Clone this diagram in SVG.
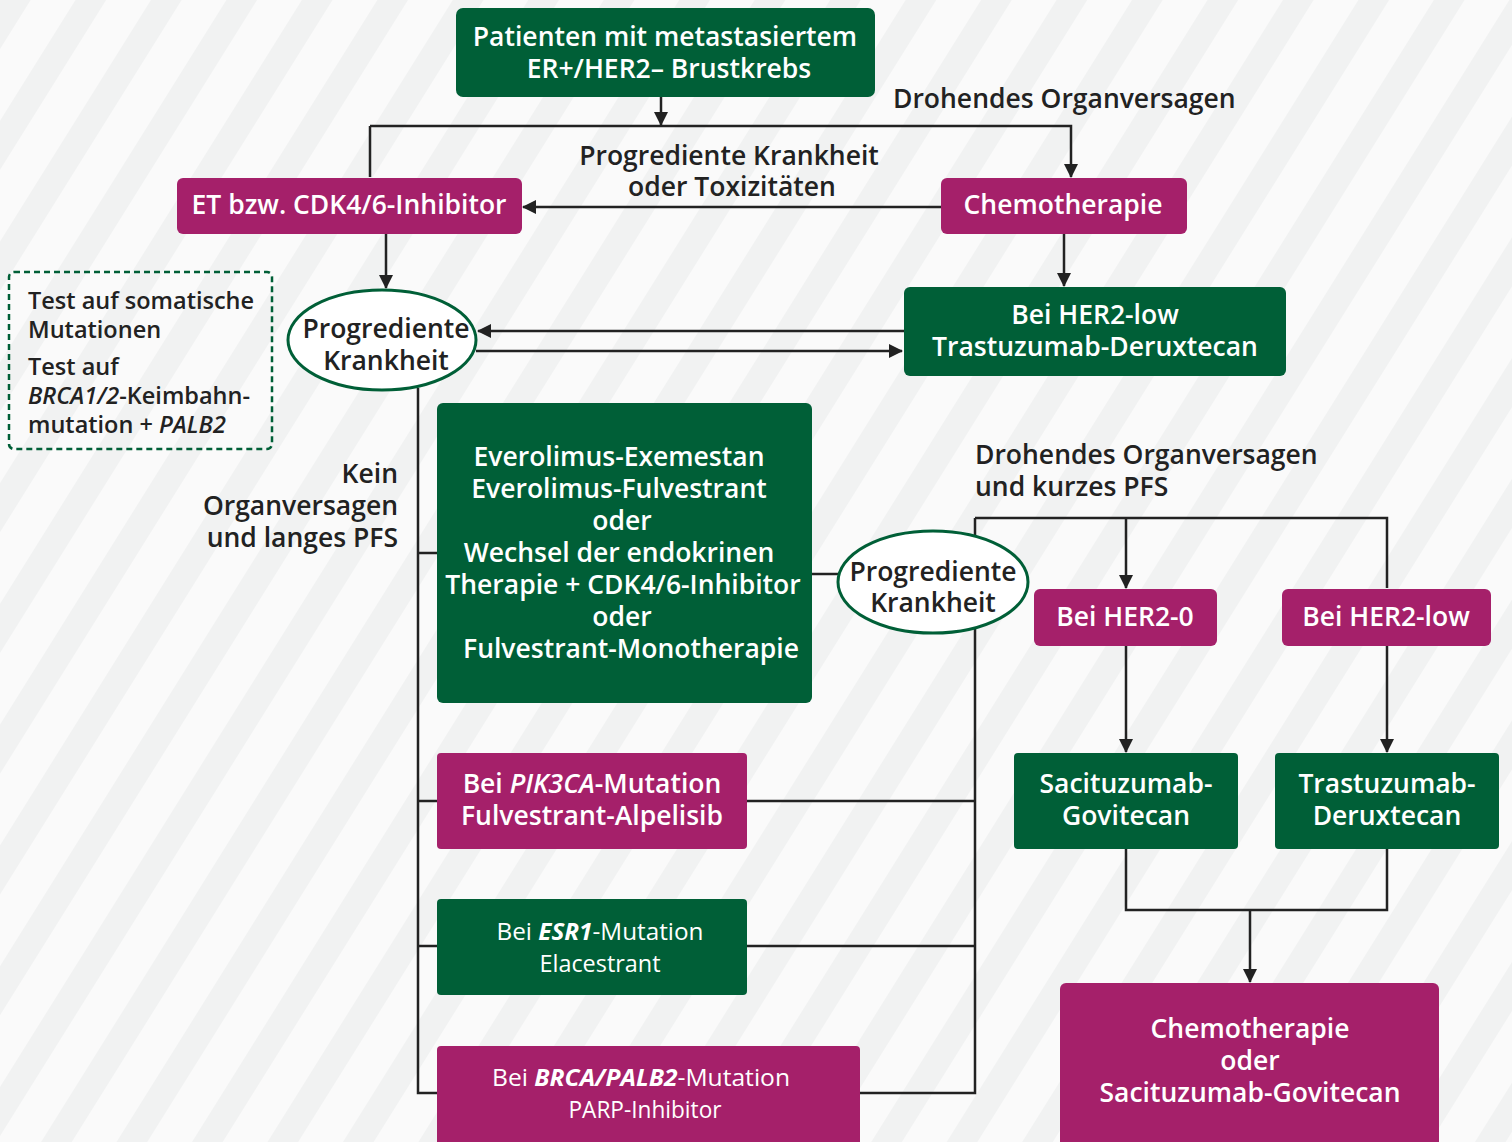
<svg xmlns="http://www.w3.org/2000/svg" width="1512" height="1142" viewBox="0 0 1512 1142">
<defs>
<pattern id="stripes" patternUnits="userSpaceOnUse" width="64" height="64" patternTransform="rotate(32)">
<rect x="0" y="0" width="64" height="64" fill="#fafafa"/>
<rect x="0" y="0" width="26" height="64" fill="#f1f2f2"/>
</pattern>
<marker id="ah" markerUnits="userSpaceOnUse" markerWidth="14" markerHeight="14" refX="13" refY="7" orient="auto">
<path d="M0,0 L14,7 L0,14 Z" fill="#222"/>
</marker>
</defs>
<style>
.g{fill:#005f37}
.m{fill:#a5206a}
.wt{fill:#fff;font-family:"Open Sans","Noto Sans",sans-serif;font-size:26.5px;font-weight:600;text-anchor:middle}
.wc{fill:#fff;font-family:"Open Sans","Noto Sans",sans-serif;font-size:24px;text-anchor:middle}
.dt{fill:#222;font-family:"Open Sans","Noto Sans",sans-serif;font-size:26.5px;font-weight:600}
.st{fill:#222;font-family:"Open Sans","Noto Sans",sans-serif;font-size:23.5px;font-weight:600}
.ln{fill:none;stroke:#222;stroke-width:2.5}
.ar{fill:none;stroke:#222;stroke-width:2.5;marker-end:url(#ah)}
.el{fill:#fff;stroke:#005f37;stroke-width:3}
</style>
<rect x="0" y="0" width="1512" height="1142" fill="url(#stripes)"/>

<g id="connectors">
<path class="ar" d="M661,97 V125"/>
<path class="ar" d="M370,126 V177 M370,126 H1071 V177"/>
<path class="ar" d="M941,207 H523"/>
<path class="ar" d="M386,234 V288"/>
<path class="ar" d="M1064,234 V286"/>
<path class="ar" d="M904,331 H478"/>
<path class="ar" d="M476,351 H902"/>
<path class="ln" d="M418,388 V1093 H437 M418,553 H437 M418,801 H437 M418,946 H437"/>
<path class="ln" d="M812,574 H840"/>
<path class="ln" d="M975,518 V1093 H860 M747,801 H975 M747,946 H975"/>
<path class="ar" d="M975,518 H1387 V588 M1126,518 V588"/>
<path class="ar" d="M1126,646 V752"/>
<path class="ar" d="M1387,646 V752"/>
<path class="ln" d="M1126,849 V910 H1387 V849"/>
<path class="ar" d="M1250,910 V982"/>
</g>

<g id="n-start">
<rect class="g" x="456" y="8" width="419" height="89" rx="7"/>
<text class="wt" x="665" y="46">Patienten mit metastasiertem</text>
<text class="wt" x="669" y="78">ER+/HER2– Brustkrebs</text>
</g>

<g id="l-drohend1"><text class="dt" x="893" y="108">Drohendes Organversagen</text></g>
<g id="l-progtox">
<text class="dt" x="729" y="165" text-anchor="middle">Progrediente Krankheit</text>
<text class="dt" x="732" y="196" text-anchor="middle">oder Toxizitäten</text>
</g>

<g id="n-et">
<rect class="m" x="177" y="178" width="345" height="56" rx="6"/>
<text class="wt" x="349" y="214">ET bzw. CDK4/6-Inhibitor</text>
</g>

<g id="n-chemo">
<rect class="m" x="941" y="178" width="246" height="56" rx="6"/>
<text class="wt" x="1063" y="214">Chemotherapie</text>
</g>

<g id="n-her2low1">
<rect class="g" x="904" y="287" width="382" height="89" rx="6"/>
<text class="wt" x="1095" y="324">Bei HER2-low</text>
<text class="wt" x="1095" y="356">Trastuzumab-Deruxtecan</text>
</g>

<g id="n-prog1">
<ellipse class="el" cx="382" cy="340" rx="94" ry="50"/>
<text class="dt" x="386" y="338" text-anchor="middle">Progrediente</text>
<text class="dt" x="386" y="370" text-anchor="middle">Krankheit</text>
</g>

<g id="n-tests">
<rect x="9" y="272" width="263" height="177" rx="5" fill="none" stroke="#005f37" stroke-width="2.5" stroke-dasharray="6,4"/>
<text class="st" x="28" y="309">Test auf somatische</text>
<text class="st" x="28" y="338">Mutationen</text>
<text class="st" x="28" y="375">Test auf</text>
<text class="st" x="28" y="404"><tspan font-style="italic">BRCA1/2</tspan>-Keimbahn-</text>
<text class="st" x="28" y="433">mutation + <tspan font-style="italic">PALB2</tspan></text>
</g>

<g id="l-kein">
<text class="dt" x="398" y="483" text-anchor="end">Kein</text>
<text class="dt" x="398" y="515" text-anchor="end">Organversagen</text>
<text class="dt" x="398" y="547" text-anchor="end">und langes PFS</text>
</g>

<g id="n-everolimus">
<rect class="g" x="437" y="403" width="375" height="300" rx="6"/>
<text class="wt" x="619" y="466">Everolimus-Exemestan</text>
<text class="wt" x="619" y="498">Everolimus-Fulvestrant</text>
<text class="wt" x="622" y="530">oder</text>
<text class="wt" x="619" y="562">Wechsel der endokrinen</text>
<text class="wt" x="623" y="594">Therapie + CDK4/6-Inhibitor</text>
<text class="wt" x="622" y="626">oder</text>
<text class="wt" x="631" y="658">Fulvestrant-Monotherapie</text>
</g>

<g id="n-prog2">
<ellipse class="el" cx="933" cy="582" rx="95" ry="51"/>
<text class="dt" x="933" y="581" text-anchor="middle">Progrediente</text>
<text class="dt" x="933" y="612" text-anchor="middle">Krankheit</text>
</g>

<g id="l-drohend2">
<text class="dt" x="975" y="464">Drohendes Organversagen</text>
<text class="dt" x="975" y="496">und kurzes PFS</text>
</g>

<g id="n-her2zero">
<rect class="m" x="1034" y="589" width="183" height="57" rx="6"/>
<text class="wt" x="1125" y="626">Bei HER2-0</text>
</g>

<g id="n-her2low2">
<rect class="m" x="1282" y="589" width="209" height="57" rx="6"/>
<text class="wt" x="1386" y="626">Bei HER2-low</text>
</g>

<g id="n-sacituzumab">
<rect class="g" x="1014" y="753" width="224" height="96" rx="4"/>
<text class="wt" x="1126" y="793">Sacituzumab-</text>
<text class="wt" x="1126" y="825">Govitecan</text>
</g>

<g id="n-trastuzumab">
<rect class="g" x="1275" y="753" width="224" height="96" rx="4"/>
<text class="wt" x="1387" y="793">Trastuzumab-</text>
<text class="wt" x="1387" y="825">Deruxtecan</text>
</g>

<g id="n-final">
<rect class="m" x="1060" y="983" width="379" height="170" rx="6"/>
<text class="wt" x="1250" y="1038">Chemotherapie</text>
<text class="wt" x="1250" y="1070">oder</text>
<text class="wt" x="1250" y="1102">Sacituzumab-Govitecan</text>
</g>

<g id="n-pik3ca">
<rect class="m" x="437" y="753" width="310" height="96" rx="4"/>
<text class="wt" x="592" y="793">Bei <tspan font-style="italic">PIK3CA</tspan>-Mutation</text>
<text class="wt" x="592" y="825">Fulvestrant-Alpelisib</text>
</g>

<g id="n-esr1">
<rect class="g" x="437" y="899" width="310" height="96" rx="4"/>
<text class="wc" x="600" y="940" textLength="207" lengthAdjust="spacingAndGlyphs">Bei <tspan font-style="italic" font-weight="bold">ESR1</tspan>-Mutation</text>
<text class="wc" x="600" y="972" textLength="121" lengthAdjust="spacingAndGlyphs">Elacestrant</text>
</g>

<g id="n-brca">
<rect class="m" x="437" y="1046" width="423" height="110" rx="4"/>
<text class="wc" x="641" y="1086" textLength="298" lengthAdjust="spacingAndGlyphs">Bei <tspan font-style="italic" font-weight="bold">BRCA/PALB2</tspan>-Mutation</text>
<text class="wc" x="645" y="1118" textLength="153" lengthAdjust="spacingAndGlyphs">PARP-Inhibitor</text>
</g>
</svg>
